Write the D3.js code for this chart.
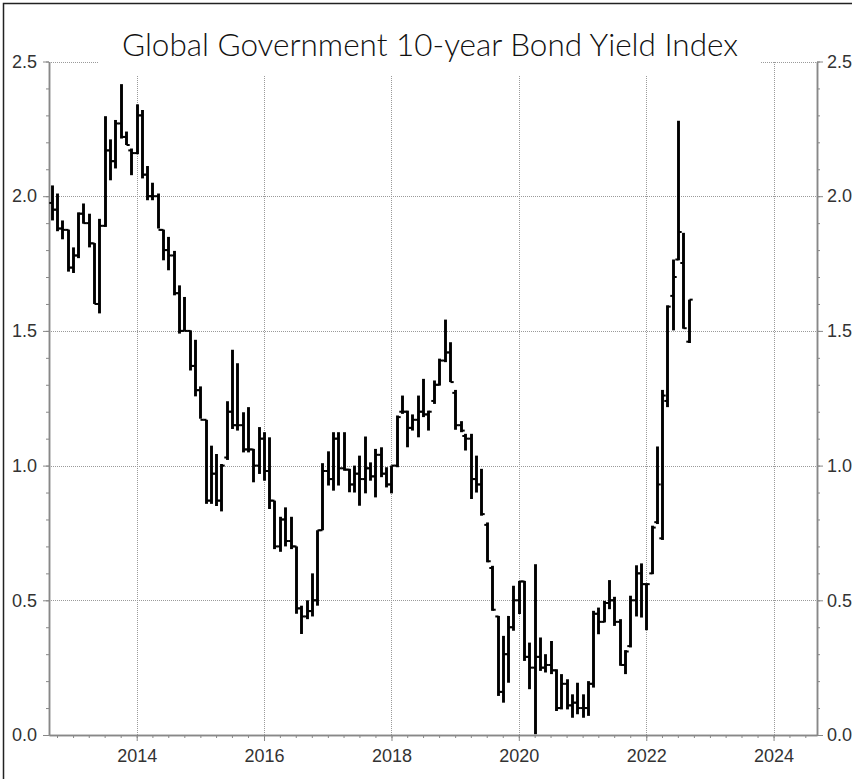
<!DOCTYPE html>
<html><head><meta charset="utf-8">
<script src="https://cdn.jsdelivr.net/npm/d3@7"></script>
<style>
html,body{margin:0;padding:0;background:#fff;overflow:hidden}
svg{display:block}
</style></head><body>
<svg id="chart" width="852" height="779"></svg>
<script>
// ---- DATA ----
const months = [
 "2012-09","2012-10","2012-11","2012-12",
 "2013-01","2013-02","2013-03","2013-04","2013-05","2013-06","2013-07","2013-08","2013-09","2013-10","2013-11","2013-12",
 "2014-01","2014-02","2014-03","2014-04","2014-05","2014-06","2014-07","2014-08","2014-09","2014-10","2014-11","2014-12",
 "2015-01","2015-02","2015-03","2015-04","2015-05","2015-06","2015-07","2015-08","2015-09","2015-10","2015-11","2015-12",
 "2016-01","2016-02","2016-03","2016-04","2016-05","2016-06","2016-07","2016-08","2016-09","2016-10","2016-11","2016-12",
 "2017-01","2017-02","2017-03","2017-04","2017-05","2017-06","2017-07","2017-08","2017-09","2017-10","2017-11","2017-12",
 "2018-01","2018-02","2018-03","2018-04","2018-05","2018-06","2018-07","2018-08","2018-09","2018-10","2018-11","2018-12",
 "2019-01","2019-02","2019-03","2019-04","2019-05","2019-06","2019-07","2019-08","2019-09","2019-10","2019-11","2019-12",
 "2020-01","2020-02","2020-03","2020-04","2020-05","2020-06","2020-07","2020-08","2020-09","2020-10","2020-11","2020-12",
 "2021-01","2021-02","2021-03","2021-04","2021-05","2021-06","2021-07","2021-08","2021-09","2021-10","2021-11","2021-12",
 "2022-01","2022-02","2022-03","2022-04","2022-05","2022-06","2022-07","2022-08","2022-09"
];
const openVals = [
 1.975,1.95,1.88,1.875,1.735,1.78,1.935,1.90,1.825,1.60,
 1.89,2.17,2.13,2.27,2.22,2.17,2.16,2.30,2.08,2.0,
 2.0,1.875,1.80,1.78,1.64,1.50,1.50,1.37,1.28,1.17,
 0.87,0.97,0.87,1.03,1.20,1.15,1.15,1.06,1.06,1.0,
 1.10,0.98,0.87,0.70,0.80,0.72,0.70,0.47,0.44,0.46,
 0.50,0.76,0.98,0.95,1.10,0.99,0.985,0.93,0.97,0.95,
 0.99,0.96,1.04,0.97,0.93,1.0,1.20,1.20,1.14,1.17,
 1.20,1.19,1.24,1.30,1.39,1.42,1.27,1.15,1.11,1.10,
 0.95,0.93,0.78,0.62,0.44,0.16,0.30,0.40,0.50,0.57,
 0.29,0.25,0.29,0.25,0.26,0.24,0.10,0.19,0.11,0.12,
 0.10,0.10,0.19,0.45,0.42,0.49,0.50,0.42,0.26,0.33,
 0.50,0.60,0.56,0.60,0.79,0.73,1.24,1.63,1.765,1.752,
 1.46
];
const highVals = [
 2.04,2.01,1.91,1.876,1.81,1.94,1.973,1.935,1.826,1.916,
 2.297,2.211,2.283,2.416,2.24,2.177,2.341,2.32,2.112,2.05,
 2.01,1.876,1.849,1.797,1.669,1.626,1.502,1.467,1.294,1.17,
 1.074,1.043,1.006,1.239,1.43,1.38,1.198,1.217,1.062,1.143,
 1.124,1.105,0.87,0.81,0.845,0.81,0.70,0.48,0.50,0.60,
 0.76,1.009,1.053,1.124,1.124,1.124,0.988,1.0,1.037,1.108,
 1.012,1.062,1.068,0.994,1.0,1.186,1.26,1.204,1.19,1.26,
 1.322,1.204,1.316,1.397,1.542,1.458,1.281,1.165,1.118,1.118,
 1.037,0.988,0.789,0.628,0.442,0.368,0.442,0.554,0.572,0.572,
 0.343,0.634,0.362,0.30,0.349,0.244,0.226,0.207,0.151,0.194,
 0.151,0.20,0.461,0.473,0.498,0.575,0.513,0.43,0.315,0.517,
 0.63,0.637,0.563,0.777,1.071,1.281,1.595,1.765,2.28,1.864,
 1.616
];
const lowVals = [
 1.91,1.87,1.84,1.72,1.715,1.77,1.898,1.81,1.60,1.565,
 1.886,2.059,2.103,2.214,2.19,2.078,2.156,2.066,1.985,1.985,
 1.88,1.762,1.725,1.632,1.49,1.50,1.353,1.257,1.174,0.858,
 0.858,0.85,0.83,1.021,1.136,1.13,1.049,1.049,0.938,0.969,
 0.944,0.839,0.69,0.68,0.70,0.69,0.45,0.375,0.43,0.44,
 0.48,0.76,0.926,0.907,0.926,0.981,0.901,0.90,0.851,0.897,
 0.944,0.882,0.957,0.919,0.897,0.994,1.192,1.068,1.13,1.105,
 1.18,1.13,1.229,1.297,1.384,1.31,1.133,1.124,1.056,0.876,
 0.90,0.814,0.641,0.461,0.145,0.12,0.194,0.387,0.449,0.275,
 0.17,0.003,0.238,0.232,0.226,0.089,0.095,0.095,0.064,0.077,
 0.064,0.071,0.176,0.374,0.418,0.467,0.405,0.257,0.226,0.325,
 0.44,0.436,0.389,0.597,0.783,0.724,1.217,1.502,1.762,1.508,
 1.455
];
const closeVals = [
 1.95,1.88,1.875,1.735,1.78,1.935,1.90,1.825,1.60,1.89,
 2.17,2.13,2.27,2.22,2.19,2.16,2.30,2.08,2.0,2.0,
 1.875,1.80,1.78,1.64,1.50,1.50,1.37,1.28,1.17,0.87,
 0.97,0.87,1.0,1.20,1.15,1.15,1.06,1.06,1.0,1.10,
 0.98,0.87,0.70,0.80,0.72,0.70,0.47,0.44,0.46,0.50,
 0.76,0.98,0.95,1.10,0.99,0.985,0.93,0.97,0.95,0.99,
 0.96,1.04,0.97,0.93,1.0,1.18,1.20,1.14,1.17,1.20,
 1.19,1.20,1.30,1.39,1.42,1.31,1.15,1.13,1.10,0.95,
 0.93,0.82,0.645,0.465,0.16,0.30,0.40,0.50,0.57,0.29,
 0.25,0.29,0.25,0.26,0.24,0.10,0.19,0.11,0.12,0.10,
 0.10,0.19,0.45,0.42,0.49,0.50,0.42,0.26,0.31,0.50,
 0.60,0.56,0.56,0.77,0.93,1.26,1.59,1.70,1.867,1.51,
 1.616
];
const yMajorTicks = [0.0,0.5,1.0,1.5,2.0,2.5];
const xMajorYears = ["2014","2016","2018","2020","2022","2024"];
const titleText = "Global Government 10-year Bond Yield Index";

// ---- CHART ----
(function(){
const parseMonth = d3.timeParse("%Y-%m");
const parseYear = d3.timeParse("%Y");
const bars = months.map((m,i)=>({date:parseMonth(m),o:openVals[i],h:highVals[i],l:lowVals[i],c:closeVals[i]}));

const svg = d3.select("#chart");
const pL = 49, pR = 817, pT = 61.5, pB = 735;
const x = d3.scaleTime().domain([new Date(2012,7,16), new Date(2024,8,6)]).range([pL,pR]);
const y = d3.scaleLinear().domain([0,2.5]).range([pB,pT]);

// frame
svg.append("path").attr("d","M3.5,779V3.5H852").attr("fill","none").attr("stroke","#222").attr("stroke-width",1.5);

// gridlines
const grid = svg.append("g").attr("stroke","#9a9a9a").attr("stroke-width",1).attr("stroke-dasharray","1,1").attr("shape-rendering","crispEdges");
grid.selectAll("line.h").data(yMajorTicks.filter(v=>v>0)).join("line")
  .attr("x1",pL).attr("x2",pR).attr("y1",d=>Math.round(y(d))+0.5).attr("y2",d=>Math.round(y(d))+0.5);
const yearDates = xMajorYears.map(s=>parseYear(s));
grid.selectAll("line.v").data(yearDates).join("line")
  .attr("y1",pT).attr("y2",pB).attr("x1",d=>Math.round(x(d))+0.5).attr("x2",d=>Math.round(x(d))+0.5);

// title box (covers grid)
svg.append("rect").attr("x",98).attr("y",10).attr("width",662).attr("height",65).attr("fill","#fff");
const title = svg.append("text").attr("x",430).attr("y",56).attr("text-anchor","middle")
  .style("font-family","Lato, 'Open Sans', sans-serif").style("font-weight",300)
  .style("font-size","30px").attr("fill","#111").text(titleText);
const tl = title.node().getComputedTextLength();
if (tl>0) title.style("font-size",(30*616/tl).toFixed(2)+"px");

// axes
const axisFont = "'Liberation Sans', Arial, sans-serif";
function styleAxis(g){
  g.select(".domain").attr("stroke","#888").attr("stroke-width",1.5);
  g.selectAll(".tick line").attr("stroke","#888").attr("stroke-width",1);
  g.selectAll(".tick text").attr("fill","#333").style("font-family",axisFont).style("font-size","18px");
}
const minorY = d3.range(0,26).map(k=>k/10);
const fmt = d3.format(".1f");
svg.append("g").attr("transform",`translate(${pL},0)`)
  .call(d3.axisLeft(y).tickValues(minorY).tickSize(3).tickSizeOuter(0).tickFormat(""))
  .call(styleAxis);
svg.append("g").attr("transform",`translate(${pL},0)`)
  .call(d3.axisLeft(y).tickValues(yMajorTicks).tickSize(6).tickSizeOuter(0).tickPadding(6).tickFormat(fmt))
  .call(styleAxis);
svg.append("g").attr("transform",`translate(${pR},0)`)
  .call(d3.axisRight(y).tickValues(minorY).tickSize(3).tickSizeOuter(0).tickFormat(""))
  .call(styleAxis);
svg.append("g").attr("transform",`translate(${pR},0)`)
  .call(d3.axisRight(y).tickValues(yMajorTicks).tickSize(6).tickSizeOuter(0).tickPadding(4).tickFormat(fmt))
  .call(styleAxis);
const quarters = d3.timeMonth.every(3).range(x.domain()[0], x.domain()[1]);
svg.append("g").attr("transform",`translate(0,${pB})`)
  .call(d3.axisBottom(x).tickValues(quarters).tickSize(3).tickSizeOuter(0).tickFormat(""))
  .call(styleAxis);
svg.append("g").attr("transform",`translate(0,${pB})`)
  .call(d3.axisBottom(x).tickValues(yearDates).tickSize(6).tickSizeOuter(0).tickPadding(8).tickFormat(d3.timeFormat("%Y")))
  .call(styleAxis);

// OHLC bars
const g = svg.append("g").attr("stroke","#000");
const bx = d=>Math.round(x(d.date))+0.5;
g.selectAll("line.hl").data(bars).join("line").attr("class","hl")
  .attr("x1",bx).attr("x2",bx).attr("y1",d=>y(d.h)).attr("y2",d=>y(d.l)).attr("stroke-width",2.9);
g.selectAll("line.op").data(bars).join("line").attr("class","op")
  .attr("x1",d=>bx(d)-3.2).attr("x2",bx).attr("y1",d=>y(d.o)).attr("y2",d=>y(d.o)).attr("stroke-width",2);
g.selectAll("line.cl").data(bars).join("line").attr("class","cl")
  .attr("x1",bx).attr("x2",d=>bx(d)+3.2).attr("y1",d=>y(d.c)).attr("y2",d=>y(d.c)).attr("stroke-width",2);
})();
</script>
</body></html>
